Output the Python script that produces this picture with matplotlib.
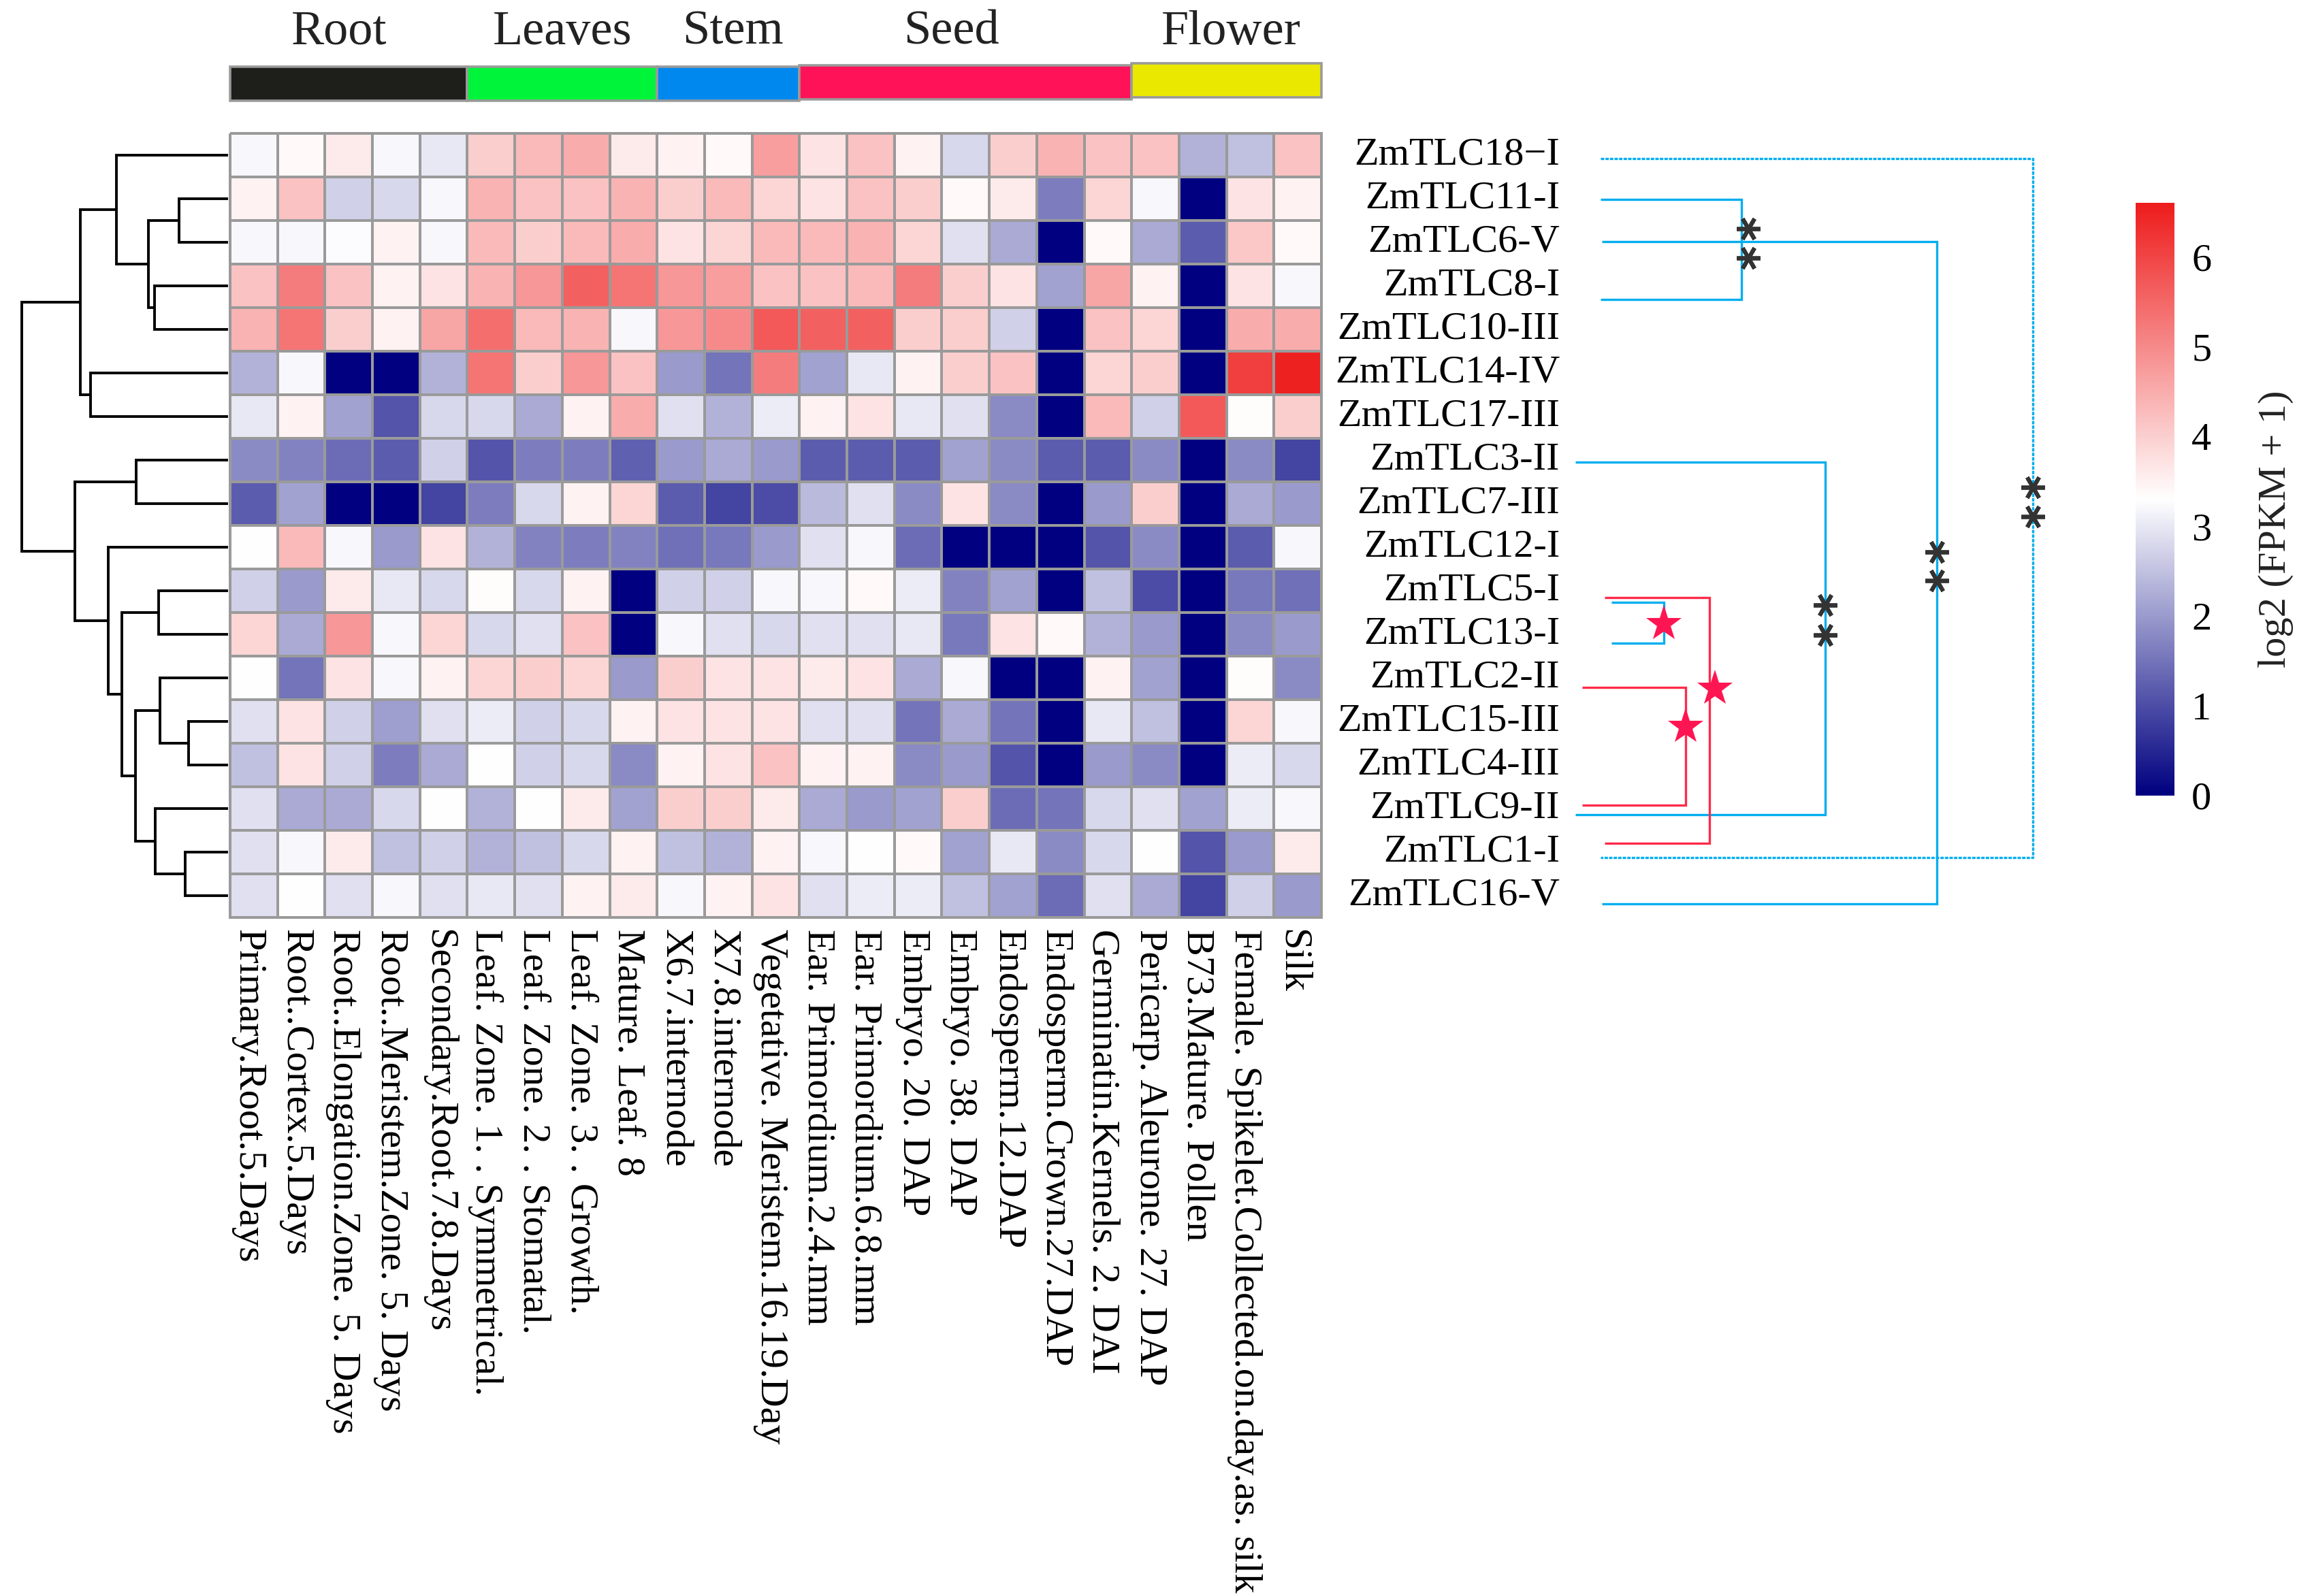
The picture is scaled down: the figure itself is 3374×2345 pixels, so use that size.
import numpy as np
import matplotlib
matplotlib.use("Agg")
import matplotlib.pyplot as plt
from matplotlib.colors import LinearSegmentedColormap
from matplotlib.patches import Rectangle
from matplotlib.transforms import ScaledTranslation

# ---------------- data ----------------
genes = ["ZmTLC18\u2212I", "ZmTLC11-I", "ZmTLC6-V", "ZmTLC8-I", "ZmTLC10-III", "ZmTLC14-IV",
         "ZmTLC17-III", "ZmTLC3-II", "ZmTLC7-III", "ZmTLC12-I", "ZmTLC5-I", "ZmTLC13-I",
         "ZmTLC2-II", "ZmTLC15-III", "ZmTLC4-III", "ZmTLC9-II", "ZmTLC1-I", "ZmTLC16-V"]

tissues = ["Primary.Root.5.Days", "Root..Cortex.5.Days", "Root..Elongation.Zone. 5. Days",
           "Root..Meristem.Zone. 5. Days", "Secondary.Root.7.8.Days", "Leaf. Zone. 1. . Symmetrical.",
           "Leaf. Zone. 2. . Stomatal.", "Leaf. Zone. 3. . Growth.", "Mature. Leaf. 8",
           "X6.7.internode", "X7.8.internode", "Vegetative. Meristem.16.19.Day",
           "Ear. Primordium.2.4.mm", "Ear. Primordium.6.8.mm", "Embryo. 20. DAP", "Embryo. 38. DAP",
           "Endosperm.12.DAP", "Endosperm.Crown.27.DAP", "Germinatin.Kernels. 2. DAI",
           "Pericarp. Aleurone. 27. DAP", "B73.Mature. Pollen",
           "Female. Spikelet.Collected.on.day.as. silk", "Silk"]

zmtlc18 = [3.2, 3.4, 3.6, 3.2, 3.0, 4.0, 4.3, 4.5, 3.6, 3.5, 3.4, 4.7, 3.7, 4.2, 3.5, 2.8, 4.0, 4.4, 4.2, 4.2, 2.3, 2.5, 4.2]
zmtlc11 = [3.5, 4.2, 2.7, 2.8, 3.2, 4.4, 4.2, 4.2, 4.4, 4.0, 4.3, 3.9, 3.7, 4.2, 4.0, 3.4, 3.6, 1.6, 3.9, 3.2, 0.0, 3.7, 3.5]
zmtlc6 = [3.2, 3.2, 3.25, 3.5, 3.2, 4.3, 4.0, 4.3, 4.5, 3.7, 3.9, 4.3, 4.3, 4.4, 3.9, 2.9, 2.2, 0.0, 3.4, 2.2, 1.2, 4.1, 3.4]
zmtlc8 = [4.2, 5.2, 4.2, 3.5, 3.7, 4.4, 4.8, 5.6, 5.3, 4.8, 4.7, 4.2, 4.2, 4.3, 5.2, 4.0, 3.7, 2.1, 4.6, 3.5, 0.0, 3.7, 3.2]
zmtlc10 = [4.4, 5.3, 4.0, 3.5, 4.6, 5.4, 4.3, 4.4, 3.2, 4.8, 5.0, 5.7, 5.6, 5.6, 4.0, 4.0, 2.7, 0.0, 4.2, 3.9, 0.0, 4.5, 4.5]
zmtlc14 = [2.3, 3.2, 0.0, 0.0, 2.3, 5.3, 4.0, 4.8, 4.2, 2.0, 1.5, 5.2, 2.1, 3.0, 3.5, 4.0, 4.2, 0.0, 3.9, 4.0, 0.0, 6.1, 6.5]
zmtlc17 = [3.0, 3.5, 2.1, 1.1, 2.8, 2.8, 2.2, 3.5, 4.5, 2.9, 2.3, 3.05, 3.5, 3.7, 3.0, 2.9, 1.8, 0.0, 4.3, 2.7, 5.7, 3.35, 4.0]
zmtlc3 = [1.8, 1.7, 1.4, 1.2, 2.7, 1.1, 1.6, 1.6, 1.25, 2.0, 2.2, 2.0, 1.2, 1.2, 1.2, 2.1, 1.8, 1.2, 1.2, 1.8, 0.0, 1.8, 0.9]
zmtlc7 = [1.2, 2.1, 0.0, 0.0, 0.9, 1.6, 2.8, 3.5, 3.9, 1.2, 0.9, 1.0, 2.4, 2.9, 1.8, 3.7, 1.8, 0.0, 2.0, 4.0, 0.0, 2.2, 2.0]
zmtlc12 = [3.3, 4.3, 3.2, 2.0, 3.7, 2.3, 1.7, 1.6, 1.7, 1.45, 1.55, 2.0, 2.9, 3.2, 1.4, 0.0, 0.0, 0.0, 1.1, 1.8, 0.0, 1.2, 3.2]
zmtlc5 = [2.7, 2.0, 3.6, 3.0, 2.8, 3.35, 2.8, 3.5, 0.0, 2.7, 2.7, 3.2, 3.2, 3.4, 3.05, 1.7, 2.1, 0.0, 2.5, 1.0, 0.0, 1.55, 1.45]
zmtlc13 = [3.9, 2.2, 4.8, 3.2, 3.9, 2.8, 2.9, 4.2, 0.0, 3.2, 2.9, 2.8, 2.9, 2.9, 3.0, 1.55, 3.7, 3.4, 2.3, 2.0, 0.0, 1.8, 2.0]
zmtlc2 = [3.3, 1.5, 3.7, 3.2, 3.5, 3.9, 4.0, 3.9, 2.0, 4.0, 3.7, 3.7, 3.6, 3.7, 2.2, 3.2, 0.0, 0.0, 3.5, 2.1, 0.0, 3.35, 1.8]
zmtlc15 = [2.9, 3.7, 2.7, 2.05, 2.9, 3.05, 2.7, 2.8, 3.5, 3.7, 3.7, 3.7, 2.9, 2.9, 1.5, 2.2, 1.5, 0.0, 3.0, 2.5, 0.0, 3.9, 3.2]
zmtlc4 = [2.5, 3.7, 2.7, 1.6, 2.2, 3.3, 2.7, 2.8, 1.8, 3.5, 3.7, 4.2, 3.5, 3.5, 1.8, 2.0, 1.1, 0.0, 2.0, 1.8, 0.0, 3.05, 2.8]
zmtlc9 = [2.9, 2.2, 2.2, 2.8, 3.3, 2.3, 3.3, 3.6, 2.1, 4.0, 4.0, 3.6, 2.2, 2.0, 2.1, 4.0, 1.4, 1.5, 2.8, 2.9, 2.1, 3.05, 3.2]
zmtlc1 = [2.9, 3.2, 3.6, 2.5, 2.7, 2.3, 2.5, 2.8, 3.5, 2.5, 2.3, 3.5, 3.2, 3.3, 3.4, 2.1, 3.0, 1.8, 2.8, 3.3, 1.1, 2.0, 3.6]
zmtlc16 = [2.9, 3.3, 2.9, 3.2, 2.9, 3.0, 2.9, 3.5, 3.6, 3.2, 3.5, 3.7, 2.9, 3.05, 3.05, 2.5, 2.1, 1.4, 2.9, 2.2, 0.9, 2.7, 2.0]

# tissue groups (column spans)
group_names = ["Root", "Leaves", "Stem", "Seed", "Flower"]
group_start = [0, 5, 9, 12, 19]
group_end = [5, 9, 12, 19, 23]
group_label_x = [2.3, 7.0, 10.6, 15.2, 21.1]
group_colors = ["#1E1E1A", "#00F53A", "#0088EE", "#FF1258", "#EBE800"]

# row dendrogram (leaf ids 0-17 in displayed order, new clusters numbered from 18)
link_left = [1, 3, 18, 0, 5, 21, 7, 13, 16, 12, 15, 27, 10, 30, 9, 24, 23]
link_right = [2, 4, 19, 20, 6, 22, 8, 14, 17, 25, 26, 28, 11, 29, 31, 32, 33]
link_height = [72, 108, 117, 164, 202, 217, 135, 58, 63, 100, 107, 136, 102, 156, 176, 225, 303]

# ---------------- figure ----------------
W, H = 3374, 2345
fig = plt.figure(figsize=(W / 100, H / 100), dpi=100)
fig.patch.set_facecolor("white")
FONT = "Liberation Serif"
FS = 42


def ax_px(x0, y0, x1, y1, **kw):
    return fig.add_axes([x0 / W, 1 - y1 / H, (x1 - x0) / W, (y1 - y0) / H], **kw)


data = np.array([zmtlc18, zmtlc11, zmtlc6, zmtlc8, zmtlc10, zmtlc14, zmtlc17, zmtlc3, zmtlc7,
                 zmtlc12, zmtlc5, zmtlc13, zmtlc2, zmtlc15, zmtlc4, zmtlc9, zmtlc1, zmtlc16])
nrow, ncol = data.shape

cmap = LinearSegmentedColormap.from_list("nwr", ["#000080", "#FFFFFF", "#EE1C1C"], N=256)

HX0, HY0, HX1, HY1 = 338, 196, 1941, 1348
ax = ax_px(HX0, HY0, HX1, HY1)
mesh = ax.pcolormesh(np.arange(ncol + 1), np.arange(nrow + 1), data, cmap=cmap, vmin=0, vmax=6.6,
                     edgecolors="#9a9a9a", linewidth=2.6)
mesh.set_clip_on(False)
ax.set_xlim(0, ncol)
ax.set_ylim(nrow, 0)
for s in ax.spines.values():
    s.set_visible(False)
ax.set_yticks([])
ax.set_xticks(np.arange(ncol) + 0.5)
ax.set_xticklabels(tissues, rotation=-90, fontsize=FS, fontfamily=FONT, ha="center", va="top")
ax.tick_params(axis="x", length=0, pad=12)
shift = ScaledTranslation(-8 / 100, 0, fig.dpi_scale_trans)
for lab in ax.get_xticklabels():
    lab.set_transform(lab.get_transform() + shift)

# row labels on the right
col_w = (HX1 - HX0) / ncol
for i, g in enumerate(genes):
    ax.text(ncol + (2291 - HX1) / col_w, i + 0.5, g, ha="right", va="center",
            fontsize=FS, fontfamily=FONT, clip_on=False)

# ---------------- dendrogram ----------------
axd = ax_px(0, HY0, 335, HY1)
axd.set_xlim(335, 0)
axd.set_ylim(nrow, 0)
axd.axis("off")
pos = {i: (i + 0.5, 0.0) for i in range(nrow)}
for k, (a, b, h) in enumerate(zip(link_left, link_right, link_height)):
    ya, ha_ = pos[a]
    yb, hb = pos[b]
    axd.plot([ha_, h, h, hb], [ya, ya, yb, yb], color="black", lw=2.8, solid_capstyle="butt",
             solid_joinstyle="miter")
    pos[nrow + k] = ((ya + yb) / 2, h)

# ---------------- group bar ----------------
axg = ax_px(HX0, 96, HX1, 146)
axg.set_xlim(0, ncol)
axg.set_ylim(1, 0)
axg.axis("off")
group_dy = [0.04, 0.04, 0.04, 0.0, -0.06]
for name, s, e, lx, c, dy in zip(group_names, group_start, group_end, group_label_x, group_colors, group_dy):
    axg.add_patch(Rectangle((s, dy), e - s, 1, facecolor=c, edgecolor="#9a9a9a", lw=2.6, clip_on=False))
    axg.text(lx, -0.98, name, ha="center", va="center", fontsize=52, fontfamily=FONT,
             color="#222222", clip_on=False)

# ---------------- colorbar ----------------
cax = ax_px(3137, 298, 3194, 1169)
cb = fig.colorbar(mesh, cax=cax, ticks=[0, 1, 2, 3, 4, 5, 6])
cb.outline.set_visible(False)
cax.tick_params(length=0, pad=18, labelsize=FS)
for t in cax.get_yticklabels():
    t.set_fontfamily(FONT)
cb.set_label("log2 (FPKM + 1)", fontsize=FS, fontfamily=FONT, rotation=90, color="#222222")
cax.yaxis.set_label_coords(3.15, 0.45)

# ---------------- significance brackets ----------------
axo = fig.add_axes([0, 0, 1, 1], zorder=5)
axo.set_xlim(0, W)
axo.set_ylim(H, 0)
axo.axis("off")
axo.patch.set_alpha(0)

CYAN = "#00AEEF"
RED = "#FF2B4A"
br_y1 = [233, 293, 355, 679, 885, 878, 1010]
br_y2 = [1260, 440, 1328, 1197, 945, 1239, 1183]
br_x1 = [2351, 2351, 2353, 2314, 2367, 2357, 2324]
br_x2 = [2986, 2558, 2845, 2681, 2444, 2511, 2476]
br_col = [CYAN, CYAN, CYAN, CYAN, CYAN, RED, RED]
br_ls = [(0, (1.5, 0.5)), "-", "-", "-", "-", "-", "-"]
for y1, y2, x1, x2, c, ls in zip(br_y1, br_y2, br_x1, br_x2, br_col, br_ls):
    axo.plot([x1, x2, x2, x1], [y1, y1, y2, y2], color=c, lw=2.4, ls=ls,
             solid_joinstyle="miter", solid_capstyle="butt")

star_x = [2444, 2519, 2476]
star_y = [917, 1012, 1068]
axo.plot(star_x, star_y, ls="none", marker="*", ms=40, color="#FF1552", mew=0)

ast_x = [2568, 2568, 2845, 2845, 2681, 2681, 2986, 2986]
ast_y = [336, 379, 811, 853, 889, 933, 716, 759]
axo.plot(ast_x, ast_y, ls="none", marker=(6, 2, 90), ms=25, mew=4.2, color="#333333")

fig.savefig("out.png", dpi=100, facecolor="white")
